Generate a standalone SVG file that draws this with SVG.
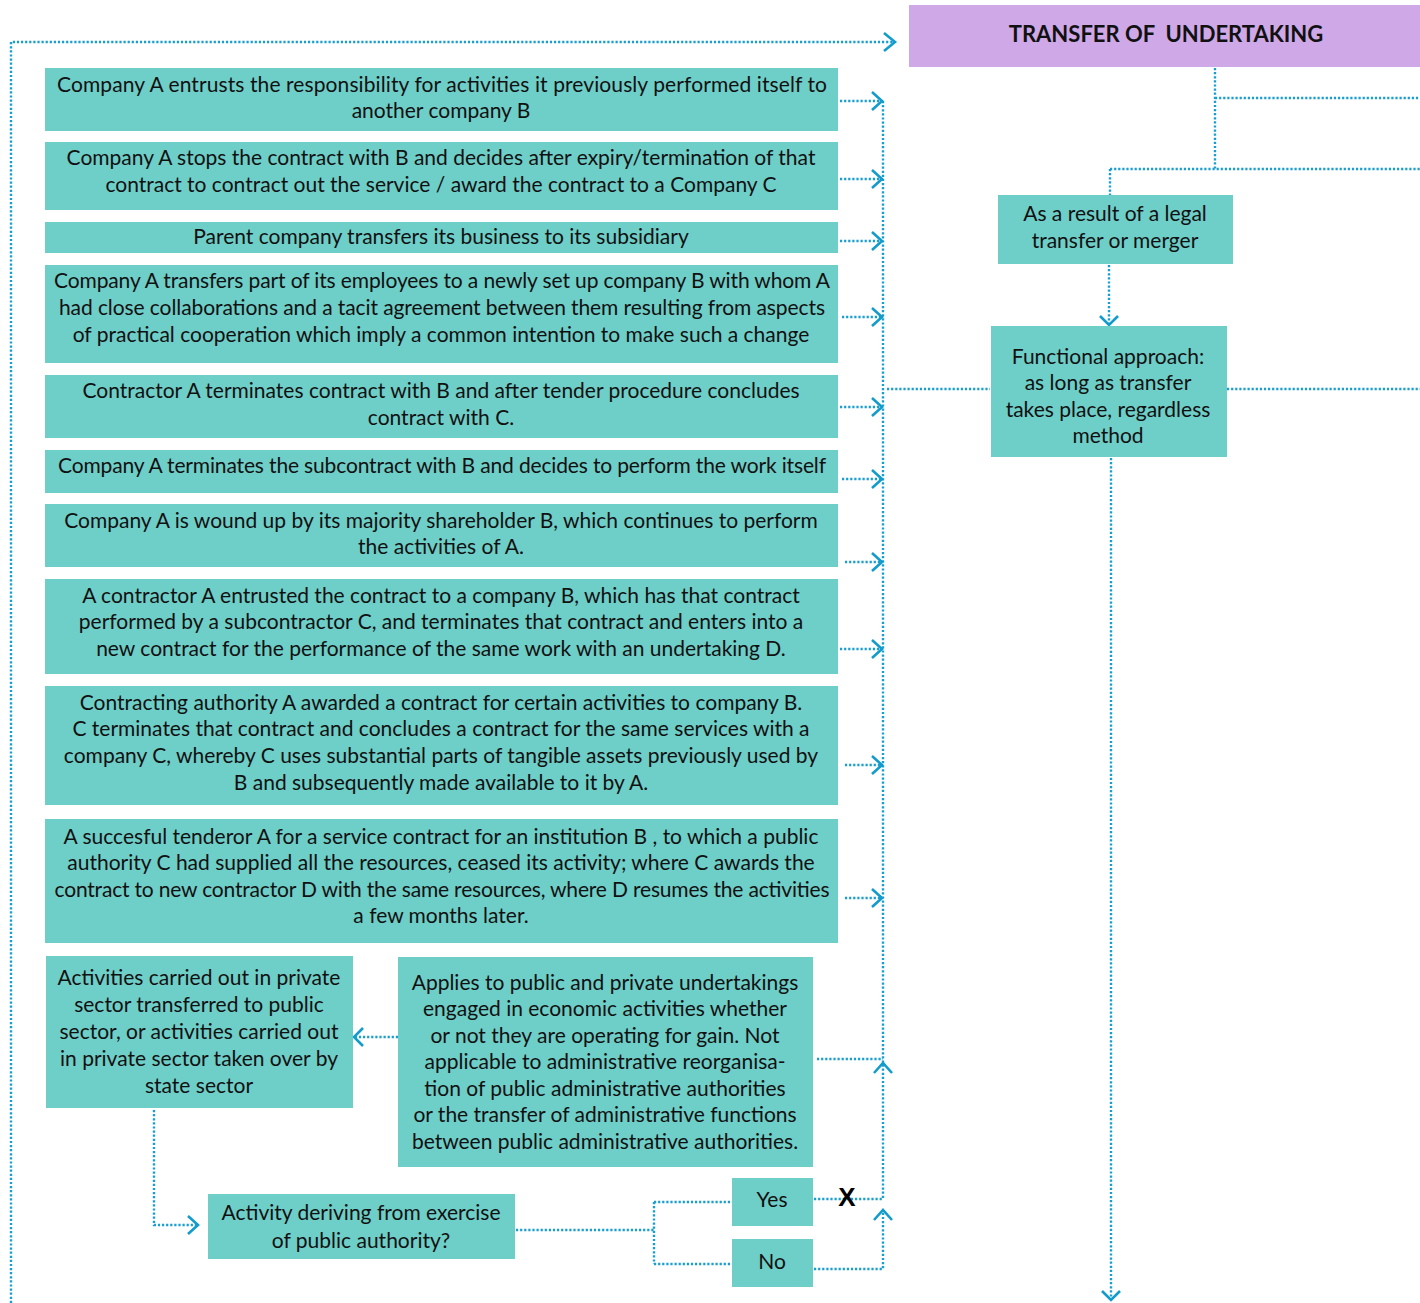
<svg xmlns="http://www.w3.org/2000/svg" width="1420" height="1303" viewBox="0 0 1420 1303">
<style>
.box{fill:#6ECEC8}
.t{font-family:Lato,"Noto Sans",sans-serif;font-size:21px;fill:#111;text-anchor:middle}
.ttl{font-family:Lato,"Noto Sans",sans-serif;font-size:22px;font-weight:bold;fill:#111;text-anchor:middle}
.d{fill:none;stroke:#189ECF;stroke-width:2.4;stroke-dasharray:2.2 1.9}
.a{fill:none;stroke:#129CCB;stroke-width:2.6}
</style>
<rect width="1420" height="1303" fill="#fff"/>
<g id="connectors">
<path class="d" d="M11 1303 V42 H894"/>
<path class="d" d="M840 101 H880 M840 179 H880 M840 241 H880 M842 317 H880 M840 407 H880 M842 479 H880 M845 562 H880 M840 649 H880 M845 765 H880 M845 898 H880"/>
<path class="d" d="M883 101 V1199 M887 389 H990 M1227 389 H1420"/>
<path class="d" d="M1215 68 V169 M1215 98 H1420 M1110 169 H1420 M1110 169 V195 M1109 265 V324 M1111 458 V1298"/>
<path class="d" d="M817 1059 H883 M814 1199 H883 M814 1269 H883 V1211"/>
<path class="d" d="M398 1037 H356 M154 1110 V1225 H197"/>
<path class="d" d="M516 1230 H654 M654 1202 V1264 M654 1202 H732 M654 1264 H732"/>
<path class="a" d="M884 33 L895 42 L884 51"/>
<path class="a" d="M872 92 L882 101 L872 110 M872 170 L882 179 L872 188 M872 232 L882 241 L872 250 M872 308 L882 317 L872 326 M872 398 L882 407 L872 416 M872 470 L882 479 L872 488 M872 553 L882 562 L872 571 M872 640 L882 649 L872 658 M872 756 L882 765 L872 774 M872 889 L882 898 L872 907"/>
<path class="a" d="M874 1073 L883 1063 L892 1073 M874 1220 L883 1210 L892 1220"/>
<path class="a" d="M1100 316 L1109 325 L1118 316 M1102 1291 L1111 1300 L1120 1291"/>
<path class="a" d="M363 1028 L354 1037 L363 1046 M188 1216 L198 1225 L188 1234"/>
</g>
<g id="title"><rect x="909" y="5" width="511" height="62" fill="#CFA8E8"/><text class="ttl" x="1166" y="42" xml:space="preserve">TRANSFER OF  UNDERTAKING</text></g>
<g id="n1"><rect class="box" x="45" y="68" width="793" height="63"/><text class="t" x="442" y="92" textLength="770">Company A entrusts the responsibility for activities it previously performed itself to</text><text class="t" x="441" y="118">another company B</text></g>
<g id="n2"><rect class="box" x="45" y="142" width="793" height="68"/><text class="t" x="441" y="165">Company A stops the contract with B and decides after expiry/termination of that</text><text class="t" x="441" y="192">contract to contract out the service / award the contract to a Company C</text></g>
<g id="n3"><rect class="box" x="45" y="222" width="793" height="31"/><text class="t" x="441" y="244">Parent company transfers its business to its subsidiary</text></g>
<g id="n4"><rect class="box" x="45" y="265" width="793" height="98"/><text class="t" x="442" y="288" textLength="776">Company A transfers part of its employees to a newly set up company B with whom A</text><text class="t" x="442" y="315" textLength="766">had close collaborations and a tacit agreement between them resulting from aspects</text><text class="t" x="441" y="342">of practical cooperation which imply a common intention to make such a change</text></g>
<g id="n5"><rect class="box" x="45" y="375" width="793" height="63"/><text class="t" x="441" y="398">Contractor A terminates contract with B and after tender procedure concludes</text><text class="t" x="441" y="425">contract with C.</text></g>
<g id="n6"><rect class="box" x="45" y="450" width="793" height="43"/><text class="t" x="442" y="473" textLength="768">Company A terminates the subcontract with B and decides to perform the work itself</text></g>
<g id="n7"><rect class="box" x="45" y="504" width="793" height="63"/><text class="t" x="441" y="528">Company A is wound up by its majority shareholder B, which continues to perform</text><text class="t" x="441" y="554">the activities of A.</text></g>
<g id="n8"><rect class="box" x="45" y="579" width="793" height="95"/><text class="t" x="441" y="603">A contractor A entrusted the contract to a company B, which has that contract</text><text class="t" x="441" y="629">performed by a subcontractor C, and terminates that contract and enters into a</text><text class="t" x="441" y="656">new contract for the performance of the same work with an undertaking D.</text></g>
<g id="n9"><rect class="box" x="45" y="686" width="793" height="119"/><text class="t" x="441" y="710">Contracting authority A awarded a contract for certain activities to company B.</text><text class="t" x="441" y="736">C terminates that contract and concludes a contract for the same services with a</text><text class="t" x="441" y="763">company C, whereby C uses substantial parts of tangible assets previously used by</text><text class="t" x="441" y="790">B and subsequently made available to it by A.</text></g>
<g id="n10"><rect class="box" x="45" y="819" width="793" height="124"/><text class="t" x="441" y="844">A succesful tenderor A for a service contract for an institution B , to which a public</text><text class="t" x="441" y="870">authority C had supplied all the resources, ceased its activity; where C awards the</text><text class="t" x="442" y="897" textLength="775">contract to new contractor D with the same resources, where D resumes the activities</text><text class="t" x="441" y="923">a few months later.</text></g>
<g id="n11"><rect class="box" x="46" y="956" width="307" height="152"/><text class="t" x="199" y="985">Activities carried out in private</text><text class="t" x="199" y="1012">sector transferred to public</text><text class="t" x="199" y="1039">sector, or activities carried out</text><text class="t" x="199" y="1066">in private sector taken over by</text><text class="t" x="199" y="1093">state sector</text></g>
<g id="n12"><rect class="box" x="398" y="957" width="415" height="210"/><text class="t" x="605" y="990">Applies to public and private undertakings</text><text class="t" x="605" y="1016">engaged in economic activities whether</text><text class="t" x="605" y="1043">or not they are operating for gain. Not</text><text class="t" x="605" y="1069">applicable to administrative reorganisa-</text><text class="t" x="605" y="1096">tion of public administrative authorities</text><text class="t" x="605" y="1122">or the transfer of administrative functions</text><text class="t" x="605" y="1149">between public administrative authorities.</text></g>
<g id="n13"><rect class="box" x="208" y="1194" width="307" height="65"/><text class="t" x="361" y="1220">Activity deriving from exercise</text><text class="t" x="361" y="1248">of public authority?</text></g>
<g id="yes"><rect class="box" x="732" y="1178" width="81" height="48"/><text class="t" x="772" y="1207">Yes</text></g>
<g id="no"><rect class="box" x="732" y="1239" width="81" height="48"/><text class="t" x="772" y="1269">No</text></g>
<g id="n14"><rect class="box" x="998" y="195" width="235" height="69"/><text class="t" x="1115" y="221">As a result of a legal</text><text class="t" x="1115" y="248">transfer or merger</text></g>
<g id="n15"><rect class="box" x="991" y="326" width="236" height="131"/><text class="t" x="1108" y="364">Functional approach:</text><text class="t" x="1108" y="390">as long as transfer</text><text class="t" x="1108" y="417">takes place, regardless</text><text class="t" x="1108" y="443">method</text></g>
<text x="847" y="1206" font-family="Liberation Sans,Arial,sans-serif" font-size="26" font-weight="bold" text-anchor="middle" fill="#000">X</text>
</svg>
